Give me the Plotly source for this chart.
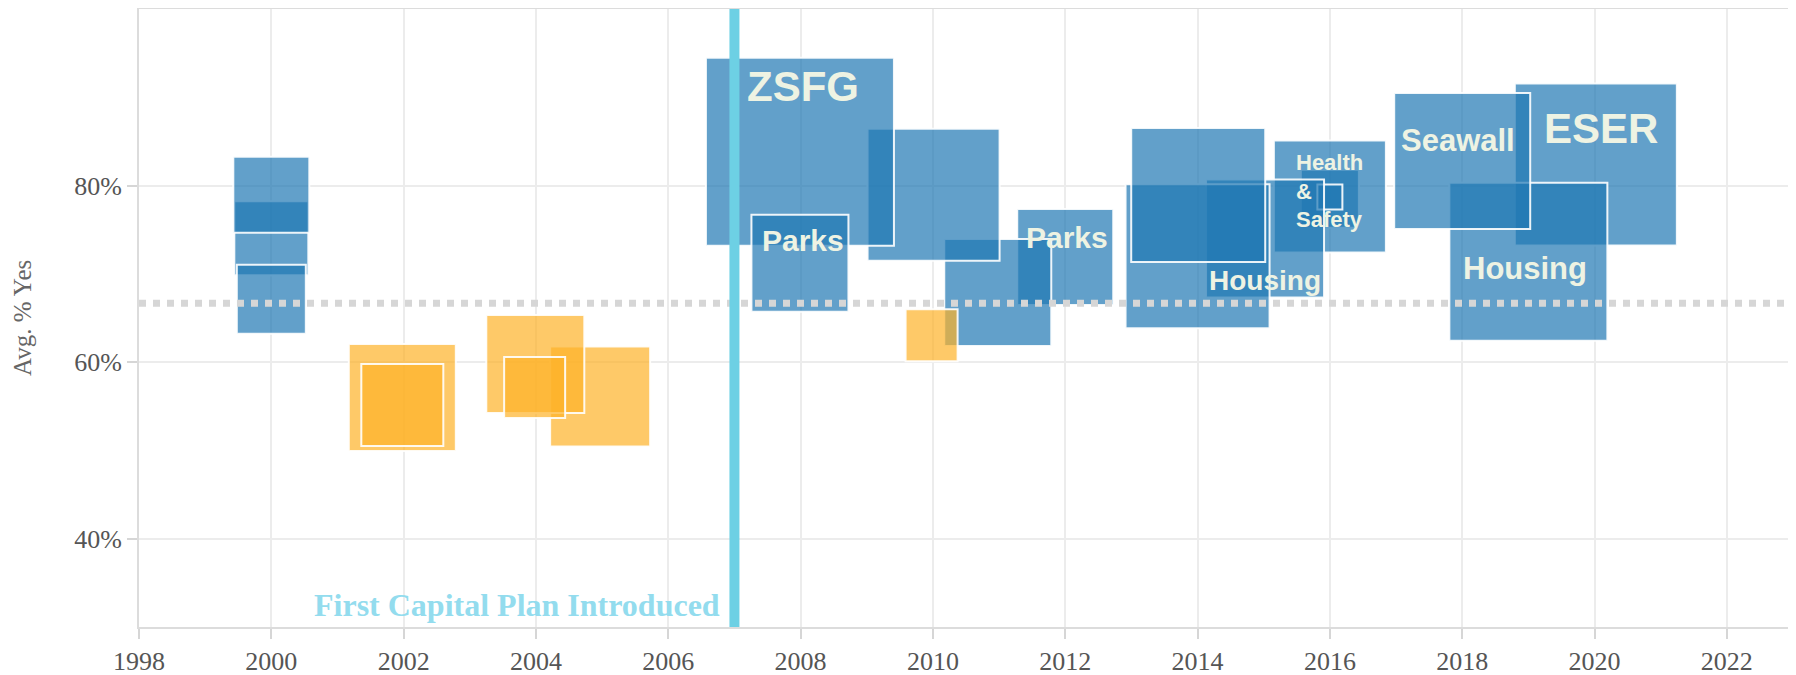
import plotly.graph_objects as go

# bond measures, newest first (this is also the drawing order)
years = [2020.02, 2019.0, 2018.0, 2016.0, 2016.0, 2016.0, 2015.02, 2014.0, 2014.01,
         2012.0, 2010.98, 2009.98, 2010.01, 2007.99, 2007.99,
         2004.97, 2003.99, 2003.98, 2001.98, 2001.98, 2000.0, 2000.0, 2000.0]
avg_yes = [82.4, 71.37, 82.78, 78.5, 78.77, 78.7, 74.0, 72.0, 78.93,
           71.9, 67.9, 63.05, 78.95, 83.82, 71.2,
           56.1, 59.8, 57.14, 56.0, 55.15, 74.04, 78.95, 67.13]
bond_size = [162, 158, 136, 58, 112, 25, 118, 144, 134,
             96, 107, 52, 132, 188, 97,
             100, 98, 61, 107, 82, 74, 76, 69]

threshold = 66.67
capital_plan_year = 2007.0

label_text = ["ZSFG", "Parks", "Parks", "Housing", "Health<br>&<br>Safety",
              "Seawall", "ESER", "Housing"]
label_year = [2008.04, 2008.03, 2012.02, 2015.02, 2015.46, 2017.93, 2020.1, 2018.95]
label_pct = [91.2, 73.78, 74.16, 69.2, 79.4, 85.1, 86.5, 70.6]
label_size = [42, 30, 30, 28, 22, 31, 42, 31]
label_anchor = ["center", "center", "center", "center", "left", "center", "center", "center"]

x_ticks = list(range(1998, 2023, 2))
y_ticks = [40, 60, 80]
y_tick_text = ["40%", "60%", "80%"]

BLUE = "rgba(31,119,180,0.7)"
ORANGE = "rgba(254,178,40,0.7)"
colors = [BLUE if v >= threshold else ORANGE for v in avg_yes]

fig = go.Figure()

fig.add_trace(go.Scatter(
    x=years,
    y=avg_yes,
    mode="markers",
    marker=dict(
        symbol="square",
        size=bond_size,
        sizemode="diameter",
        opacity=1,
        color=colors,
        line=dict(color="rgba(255,255,255,0.9)", width=2),
    ),
    cliponaxis=False,
    hoverinfo="x+y",
    showlegend=False,
))

# two-thirds line and capital plan marker
fig.add_shape(type="line", xref="paper", x0=0, x1=1, yref="y", y0=threshold, y1=threshold,
              line=dict(color="#d6d6d6", width=7, dash="7px,7px"), layer="above")
fig.add_shape(type="line", xref="x", x0=capital_plan_year, x1=capital_plan_year,
              yref="paper", y0=0, y1=1,
              line=dict(color="#6dd0e4", width=10), layer="above")

fig.add_annotation(
    x=capital_plan_year, y=32.5, xanchor="right", yanchor="middle", xshift=-12,
    text="<b>First Capital Plan Introduced</b>", showarrow=False,
    font=dict(family="Liberation Serif", size=32, color="#93dcee"),
)

for t, xv, yv, s, a in zip(label_text, label_year, label_pct, label_size, label_anchor):
    fig.add_annotation(
        x=xv, y=yv, text=f"<b>{t}</b>", showarrow=False,
        xanchor=a, yanchor="middle", align="left",
        font=dict(family="Liberation Sans", size=s, color="#eef3e3"),
    )

# y axis title
fig.add_annotation(
    xref="paper", yref="paper", x=0, y=0.5, xshift=-117,
    text="Avg. % Yes", textangle=-90, showarrow=False,
    xanchor="center", yanchor="middle",
    font=dict(family="Liberation Serif", size=25, color="#666666"),
)

axis_common = dict(
    showline=True, linecolor="#dcdcdc", linewidth=2, mirror=True,
    showgrid=True, gridcolor="#ececec", gridwidth=2,
    ticks="outside", tickcolor="#d6d6d6", tickwidth=2, ticklen=10,
    zeroline=False, automargin=False,
    tickfont=dict(family="Liberation Serif", size=26, color="#555555"),
)

fig.update_xaxes(range=[1998, 2023], tickvals=x_ticks, **axis_common)
fig.update_yaxes(range=[30, 100], tickvals=y_ticks, ticktext=y_tick_text, **axis_common)

# the page body adds an 8px margin, so the figure is 8px smaller than the window
fig.update_layout(
    width=1788, height=667,
    margin=dict(l=131, r=3, t=1, b=48),
    plot_bgcolor="white",
    paper_bgcolor="white",
)

fig.write_html("out.html")
